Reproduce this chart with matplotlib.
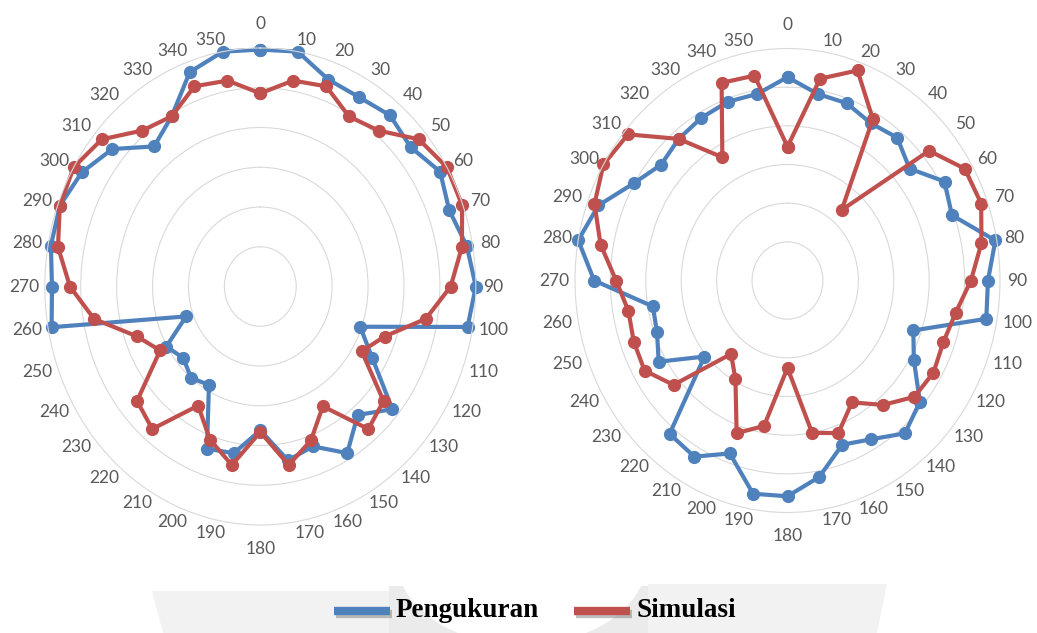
#!/usr/bin/env python
# -*- coding:utf-8 -*-

"""
Pola radiasi : pengukuran vs simulasi (dua antena)
"""

import numpy as np
import matplotlib.pyplot as plt
import matplotlib.patheffects as pe
import matplotlib.transforms as mtransforms
from matplotlib.patches import Polygon, Ellipse, Rectangle

# sudut (derajat)
sudut = np.arange(0, 360, 10)
label_sudut = [str(s) for s in sudut]

# level ternormalisasi (dB)
kiri_pengukuran = [-0.2, 0.0, -2.3, -2.5, -1.9, -2.7, -1.1, -2.0, -0.8, 0.0,
                   -0.7, -15.2, -12.0, -6.0, -8.9, -5.8, -8.6, -7.8, -11.9, -8.7,
                   -8.3, -15.7, -15.0, -16.0, -14.9, -19.0, -0.5, -1.0, -0.4, -0.3,
                   -1.3, -3.1, -7.0, -5.3, -1.3, 0.0]
kiri_simulasi = [-5.7, -3.7, -3.2, -5.3, -4.4, -1.2, 0.0, -0.1, -1.5, -3.5,
                 -6.6, -11.6, -13.7, -7.6, -6.6, -12.6, -9.4, -7.2, -11.7, -7.2,
                 -9.5, -12.7, -6.6, -7.6, -13.9, -11.7, -6.5, -3.5, -1.4, -0.3,
                 0.0, -1.2, -4.4, -5.3, -3.2, -3.7]
kanan_pengukuran = [-3.7, -5.5, -5.6, -6.5, -5.9, -7.5, -4.4, -5.3, -0.2, -1.7,
                    -1.5, -11.1, -9.4, -5.6, -4.2, -6.3, -7.4, -4.2, -2.1, -2.0,
                    -6.2, -3.7, -4.1, -14.7, -9.0, -10.4, -10.7, -2.7, 0.0, -1.6,
                    -4.9, -6.7, -6.1, -5.7, -5.4, -5.5]
kanan_simulasi = [-12.7, -3.5, -1.1, -5.9, -18.1, -3.9, -1.1, -0.9, -2.2, -4.1,
                  -5.9, -6.6, -6.2, -6.6, -9.0, -11.8, -9.0, -10.0, -18.7, -10.9,
                  -9.0, -15.3, -17.6, -9.0, -6.7, -6.9, -7.2, -5.8, -3.2, -1.0,
                  0.0, -0.6, -6.1, -11.6, -2.8, -3.1]

R_MIN, R_MAX = -30, 0
BIRU = '#4f81bd'
MERAH = '#c0504d'
GRID = '#d9d9d9'

W, H = 1037, 633
fig = plt.figure(figsize=(W / 100, H / 100), dpi=100)

# latar (watermark samar + legenda), koordinat piksel
bg = fig.add_axes([0, 0, 1, 1], zorder=-1)
bg.set_xlim(0, W)
bg.set_ylim(H, 0)
bg.axis('off')
bg.add_patch(Polygon([(152, 591), (389, 591), (389, 633), (163, 633)],
                     closed=True, fc='#f2f2f2', ec='none'))
bg.add_patch(Rectangle((389, 586), 259, 47, fc='#ebebeb', ec='none'))
wm = Ellipse((522, 560), 250, 170, fc='white', ec='none')
bg.add_patch(wm)
wm.set_clip_path(Rectangle((389, 586), 259, 47, transform=bg.transData))
bg.add_patch(Polygon([(648, 584), (887, 584), (877, 633), (648, 633)],
                     closed=True, fc='#f2f2f2', ec='none'))

shadow = [pe.SimpleLineShadow(offset=(1.5, -2.5), shadow_color='#7f7f7f', alpha=0.5),
          pe.Normal()]
for x0, warna, teks in [(334, BIRU, 'Pengukuran'), (574, MERAH, 'Simulasi')]:
    bg.plot([x0, x0 + 56], [611, 611], color=warna, lw=6, solid_capstyle='butt',
            path_effects=shadow)
    bg.text(x0 + 62, 617, teks, fontsize=19.5, fontweight='bold',
            family='Liberation Serif', color='black', ha='left', va='baseline')


def radar(rect, pengukuran, simulasi):
    ax = fig.add_axes(rect, projection='polar')
    ax.set_aspect('auto')
    ax.set_facecolor('none')
    ax.set_theta_zero_location('N')
    ax.set_theta_direction(-1)
    ax.set_ylim(R_MIN, R_MAX)
    ax.set_yticks([-25, -20, -15, -10, -5])
    ax.set_yticklabels([])
    ax.set_xticks([])
    ax.yaxis.grid(True, color=GRID, lw=0.8)
    ax.xaxis.grid(False)
    ax.spines['polar'].set_color(GRID)
    ax.spines['polar'].set_linewidth(0.8)

    th = np.deg2rad(np.append(sudut, sudut[0]))
    for data, warna in [(pengukuran, BIRU), (simulasi, MERAH)]:
        r = np.append(data, data[0])
        ax.plot(th, r, color=warna, lw=3, marker='o', ms=8.5, clip_on=False)

    # label sudut ala Excel: sedikit bergeser ke samping
    for s, lab in zip(sudut, label_sudut):
        sn = np.sin(np.deg2rad(s))
        if abs(sn) < 1e-6:
            rho, ox = 1.10, 0.0
        else:
            rho, ox = 1.05, np.sign(sn) * 3.4 * len(lab)
        r_lab = R_MIN + (R_MAX - R_MIN) * rho
        tr = mtransforms.offset_copy(ax.transData, fig=fig, x=ox, y=0, units='dots')
        ax.text(np.deg2rad(s), r_lab, lab, ha='center', va='center', transform=tr,
                fontsize=12.5, family='Lato', color='#595959', clip_on=False)
    return ax


radar([44.8 / W, (H - 525) / H, 431 / W, 477 / H], kiri_pengukuran, kiri_simulasi)
radar([575 / W, (H - 512.5) / H, 425 / W, 464 / H], kanan_pengukuran, kanan_simulasi)

fig.savefig('out.png', dpi=100)
